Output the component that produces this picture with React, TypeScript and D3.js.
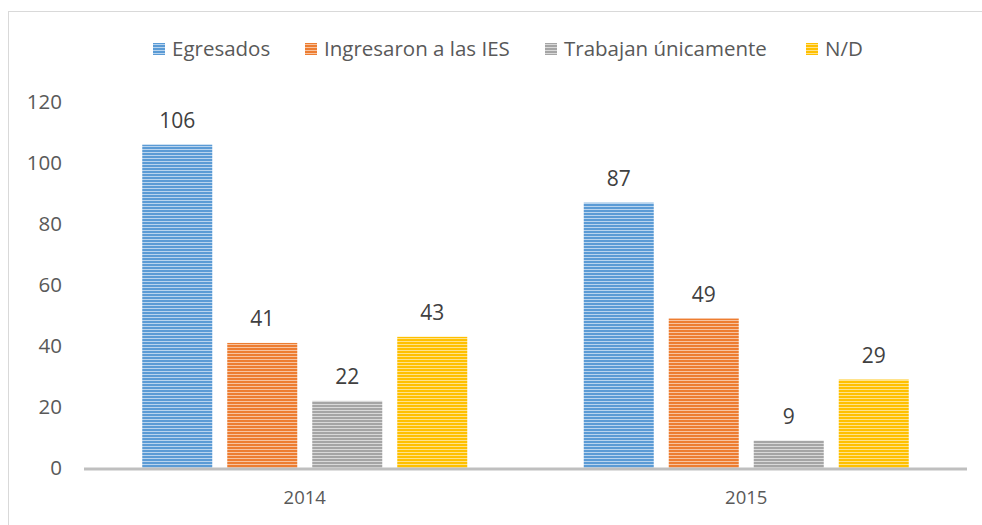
import React from "react";
import * as d3 from "d3";

const categories = ["2014", "2015"];
const seriesNames = ["Egresados", "Ingresaron a las IES", "Trabajan únicamente", "N/D"];
const egresados = [106, 87];
const ingresaron = [41, 49];
const trabajan = [22, 9];
const nd = [43, 29];
const yTicks = [0, 20, 40, 60, 80, 100, 120];

const seriesValues = [egresados, ingresaron, trabajan, nd];
const dark = ["#5B9BD5", "#ED7D31", "#A5A5A5", "#FFC000"];
const light = ["#B9D4EE", "#F7C3A0", "#D9D9D9", "#FFE28A"];
const legendX = [153, 305, 545, 806];

export default function App() {
  const W = 982, H = 525;
  const left = 84, right = 967, top = 102, bottom = 468;
  const x0 = d3.scaleBand().domain(categories).range([left, right]).paddingInner(0).paddingOuter(0);
  const y = d3.scaleLinear().domain([0, 120]).range([bottom, top]);
  const barW = 70, gap = 15;
  const groupW = 4 * barW + 3 * gap;
  const font = "'Open Sans', 'Liberation Sans', sans-serif";
  return (
    <svg width={W} height={H} style={{ position: "absolute", left: 0, top: 0 }}>
      <defs>
        {dark.map((c, i) => (
          <pattern key={i} id={`p${i}`} patternUnits="userSpaceOnUse" width={4} height={3}>
            <rect width={4} height={3} fill={light[i]} />
            <rect width={4} height={2} fill={c} />
          </pattern>
        ))}
      </defs>
      <rect x={0} y={0} width={W} height={H} fill="#fff" />
      <rect x={8.5} y={11.5} width={990} height={530} fill="none" stroke="#D9D9D9" strokeWidth={1} />
      {yTicks.map((t) => (
        <text key={t} x={62} y={y(t)} dy="0.35em" textAnchor="end" fontFamily={font} fontSize={20.5} fill="#595959">
          {t}
        </text>
      ))}
      {categories.map((cat, ci) => {
        const cx = (x0(cat) as number) + x0.bandwidth() / 2;
        const start = cx - groupW / 2;
        return (
          <g key={cat}>
            {seriesValues.map((vals, si) => {
              const bx = start + si * (barW + gap);
              const v = vals[ci];
              return (
                <g key={si}>
                  <rect x={bx} y={y(v)} width={barW} height={bottom - y(v)} fill={`url(#p${si})`} />
                  <text x={bx + barW / 2} y={y(v) - 24} dy="0.35em" textAnchor="middle" fontFamily={font} fontSize={21} fill="#404040">
                    {v}
                  </text>
                </g>
              );
            })}
            <text x={cx} y={498} dy="0.35em" textAnchor="middle" fontFamily={font} fontSize={18.5} fill="#595959">
              {cat}
            </text>
          </g>
        );
      })}
      <line x1={left} x2={right} y1={bottom + 1} y2={bottom + 1} stroke="#BFBFBF" strokeWidth={3} />
      {seriesNames.map((n, i) => (
        <g key={n}>
          <rect x={legendX[i]} y={43} width={12} height={12} fill={`url(#p${i})`} />
          <text x={legendX[i] + 19} y={49} dy="0.35em" fontFamily={font} fontSize={20.5} fill="#595959">
            {n}
          </text>
        </g>
      ))}
    </svg>
  );
}
